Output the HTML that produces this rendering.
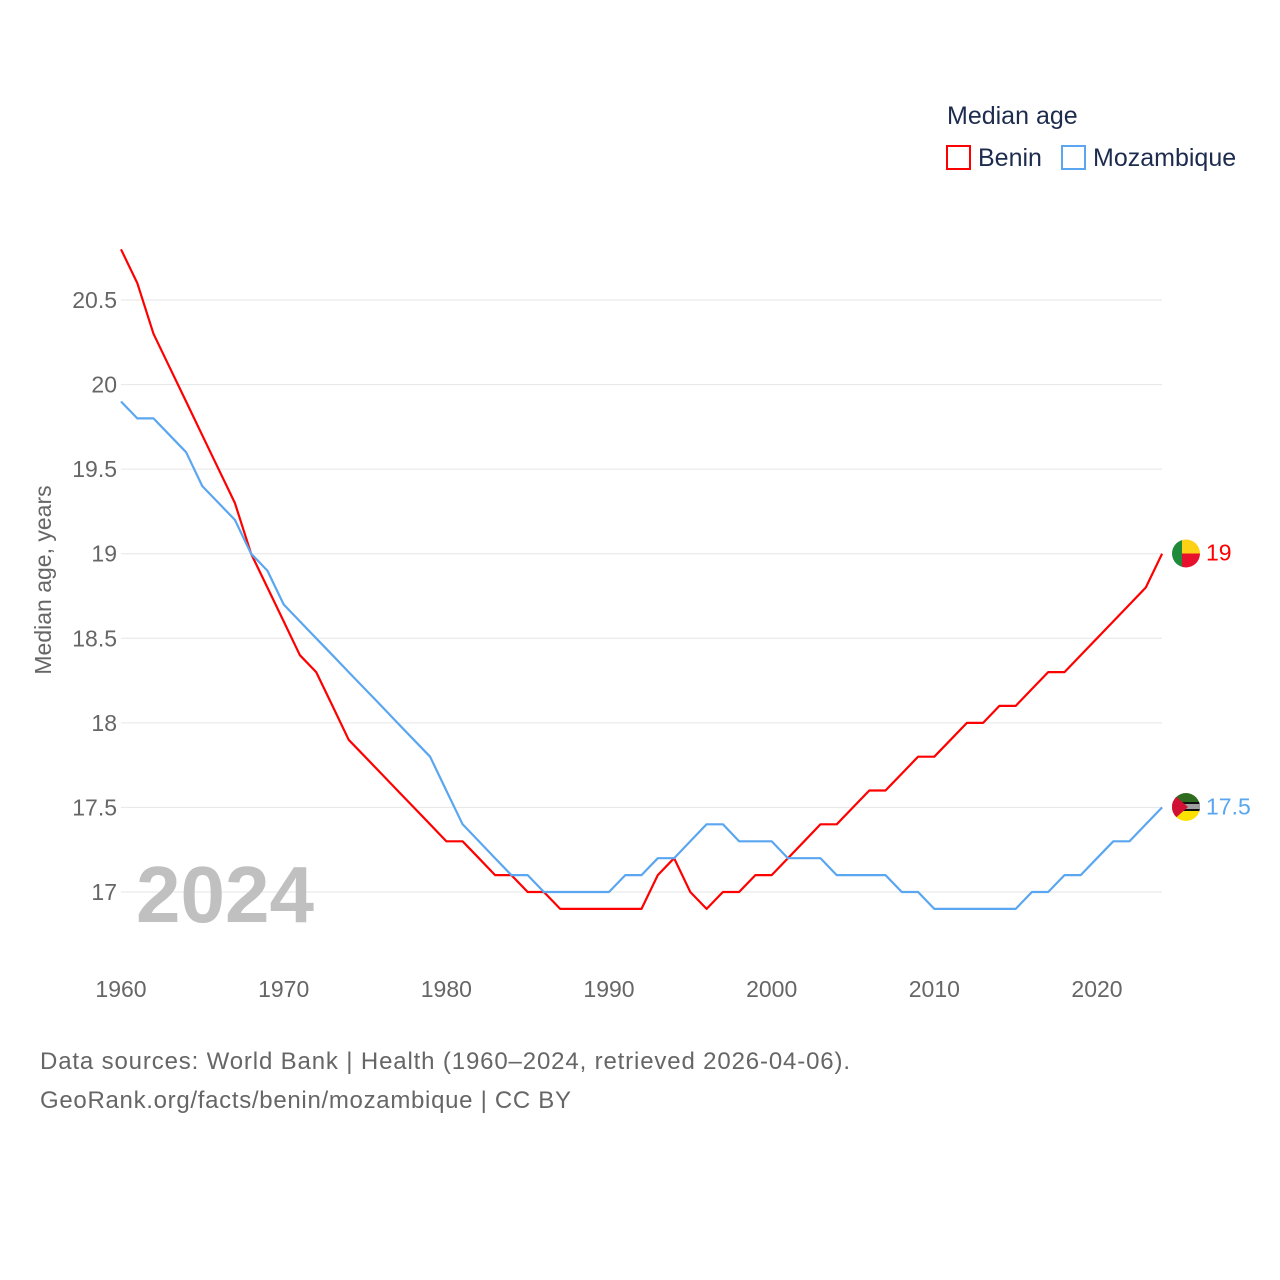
<!DOCTYPE html>
<html><head><meta charset="utf-8"><style>
body{margin:0;background:#fff;}
svg{display:block;font-family:"Liberation Sans",sans-serif;}
</style></head><body>
<svg id="chart" width="1280" height="1280" viewBox="0 0 1280 1280">
<defs><clipPath id="cb"><circle cx="1186" cy="553.5" r="14"/></clipPath><clipPath id="cm"><circle cx="1186" cy="807" r="14"/></clipPath></defs>
<g id="grid"></g>
<g id="yticks"></g>
<g id="xticks"></g>
<text x="314" y="922" font-size="80" font-weight="bold" fill="#c0c0c0" text-anchor="end">2024</text>
<text transform="translate(51,580) rotate(-90)" font-size="23" fill="#666" text-anchor="middle">Median age, years</text>
<g id="lines"></g>
<g clip-path="url(#cb)">
<rect x="1172" y="539" width="10" height="29" fill="#1e8a3a"/>
<rect x="1182" y="539" width="20" height="15" fill="#fcd116"/>
<rect x="1182" y="553.5" width="20" height="15" fill="#e8112d"/>
</g>
<g clip-path="url(#cm)">
<rect x="1172" y="793" width="29" height="10" fill="#2f6b1f"/>
<rect x="1172" y="802" width="29" height="10" fill="#111"/>
<rect x="1172" y="804" width="29" height="5" fill="#fff" opacity="0.6"/>
<rect x="1172" y="811" width="29" height="10" fill="#fce100"/>
<polygon points="1172,793 1188,807 1172,821" fill="#d21034"/>
</g>
<g>
<text x="947" y="124" font-size="25" fill="#1d2b4f">Median age</text>
<g><rect x="947" y="146" width="23" height="23" fill="none" stroke="#ff0000" stroke-width="2"/><text x="978" y="166" font-size="25" fill="#1d2b4f">Benin</text></g>
<g><rect x="1062" y="146" width="23" height="23" fill="none" stroke="#5aa6f0" stroke-width="2"/><text x="1093" y="166" font-size="25" fill="#1d2b4f">Mozambique</text></g>
</g>
<text x="40" y="1069" font-size="24" fill="#666" textLength="810">Data sources: World Bank | Health (1960–2024, retrieved 2026-04-06).</text>
<text x="40" y="1108" font-size="24" fill="#666" textLength="531">GeoRank.org/facts/benin/mozambique | CC BY</text>
</svg>
<script>
const years=[];for(let y=1960;y<=2024;y++)years.push(y);
const benin=[20.8,20.6,20.3,20.1,19.9,19.7,19.5,19.3,19.0,18.8,18.6,18.4,18.3,18.1,17.9,17.8,17.7,17.6,17.5,17.4,17.3,17.3,17.2,17.1,17.1,17.0,17.0,16.9,16.9,16.9,16.9,16.9,16.9,17.1,17.2,17.0,16.9,17.0,17.0,17.1,17.1,17.2,17.3,17.4,17.4,17.5,17.6,17.6,17.7,17.8,17.8,17.9,18.0,18.0,18.1,18.1,18.2,18.3,18.3,18.4,18.5,18.6,18.7,18.8,19.0];
const mozambique=[19.9,19.8,19.8,19.7,19.6,19.4,19.3,19.2,19.0,18.9,18.7,18.6,18.5,18.4,18.3,18.2,18.1,18.0,17.9,17.8,17.6,17.4,17.3,17.2,17.1,17.1,17.0,17.0,17.0,17.0,17.0,17.1,17.1,17.2,17.2,17.3,17.4,17.4,17.3,17.3,17.3,17.2,17.2,17.2,17.1,17.1,17.1,17.1,17.0,17.0,16.9,16.9,16.9,16.9,16.9,16.9,17.0,17.0,17.1,17.1,17.2,17.3,17.3,17.4,17.5];
const yTicks=[17,17.5,18,18.5,19,19.5,20,20.5];
const yTickLabels=["17","17.5","18","18.5","19","19.5","20","20.5"];
const xTicks=[1960,1970,1980,1990,2000,2010,2020];
const NS="http://www.w3.org/2000/svg";
const X=y=>121+(y-1960)*(976/60);
const Y=v=>892-(v-17)*169.14;
function mk(tag,attrs,parent){const e=document.createElementNS(NS,tag);for(const k in attrs)e.setAttribute(k,attrs[k]);parent.appendChild(e);return e;}
const grid=document.getElementById('grid'),yt=document.getElementById('yticks'),xt=document.getElementById('xticks'),lines=document.getElementById('lines');
yTicks.forEach((v,i)=>{
 const l=mk('line',{x1:121,x2:1162,y1:Y(v),y2:Y(v),stroke:'#e6e6e6','stroke-width':1},grid);
 
 
 const t=mk('text',{x:117,y:Y(v)+8,'font-size':23,fill:'#666','text-anchor':'end'},yt);
 t.textContent=yTickLabels[i];
 
 
});
xTicks.forEach(v=>{
 const t=mk('text',{x:X(v),y:997,'font-size':23,fill:'#666','text-anchor':'middle'},xt);
 t.textContent=v;
 
 
});
function series(vals,color,name,label){
 const d=vals.map((v,i)=>(i?'L':'M')+X(years[i]).toFixed(1)+' '+Y(v).toFixed(1)).join(' ');
 const p=mk('path',{d:d,fill:'none',stroke:color,'stroke-width':2.2,'stroke-linejoin':'round'},lines);
 
 
 const last=vals[vals.length-1];
 const t=mk('text',{x:1206,y:Y(last)+7,'font-size':23,fill:color},lines);
 t.textContent=label;
 
 
}
series(benin,'#ff0000','benin','19');
series(mozambique,'#5aa6f0','mozambique','17.5');
</script>
</body></html>
